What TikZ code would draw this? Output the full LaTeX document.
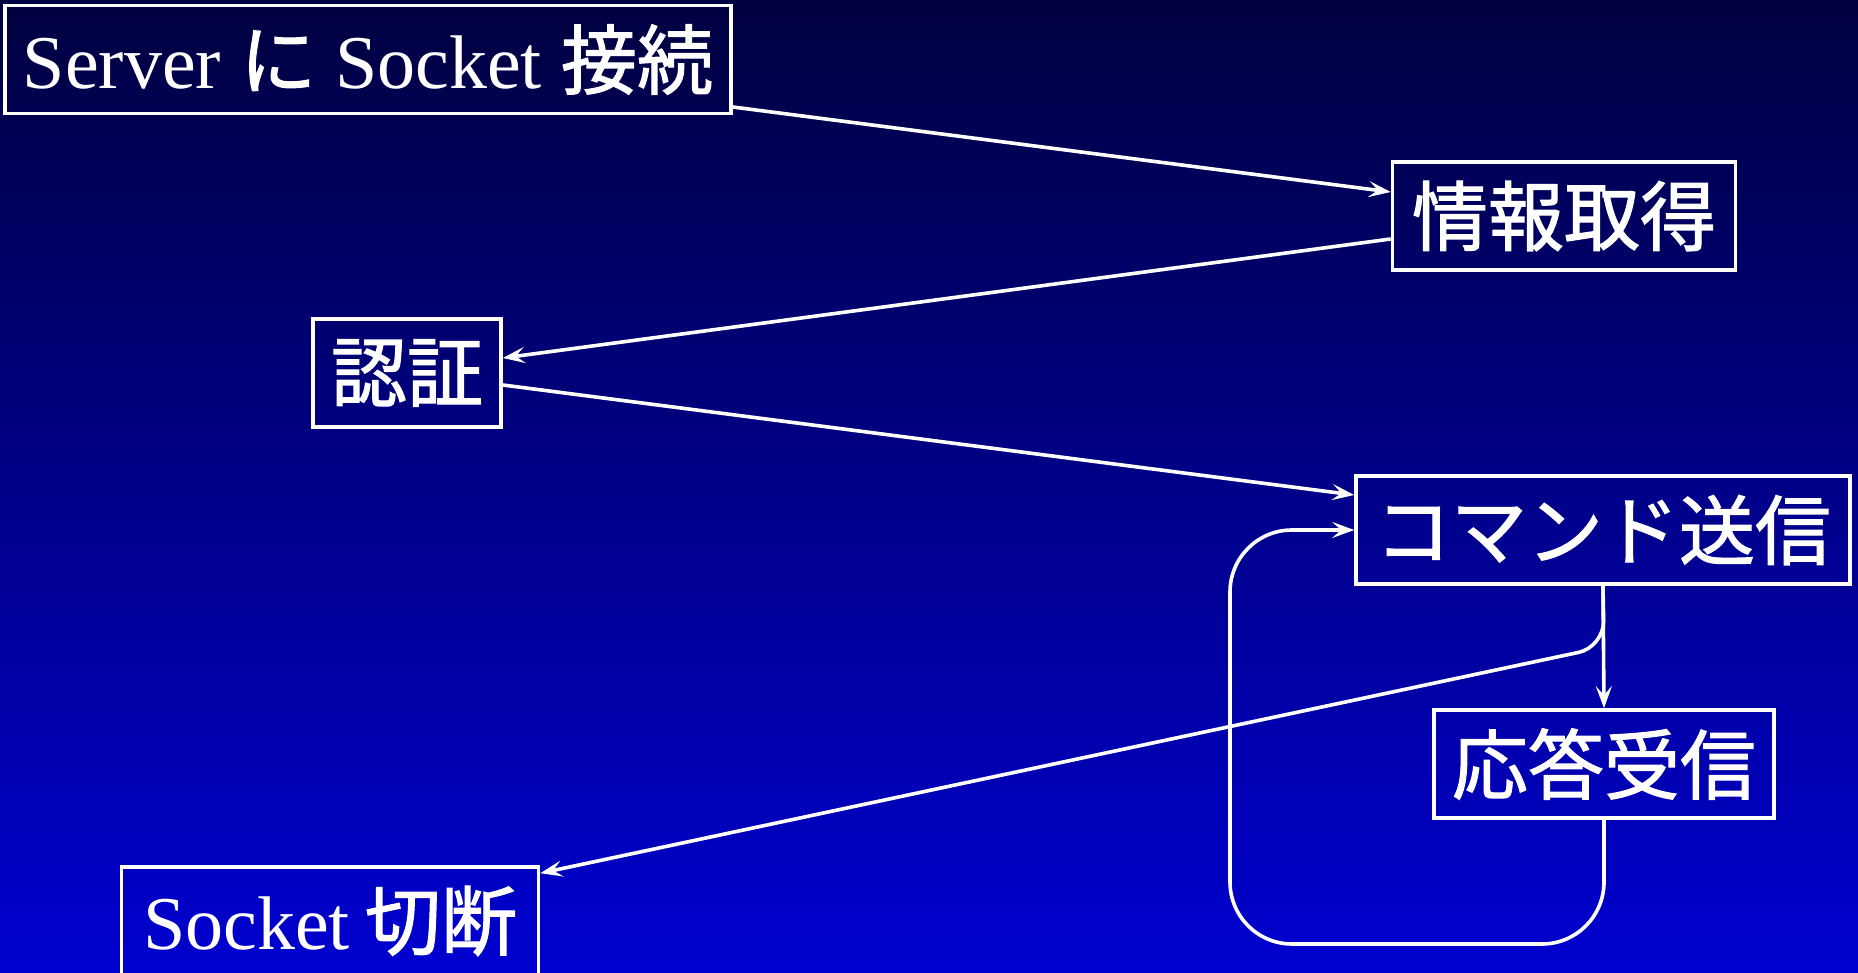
\documentclass[tikz,border=0pt]{standalone}
\usepackage{fontspec}
\setmainfont{Liberation Serif}
\newfontfamily\cjk[FakeBold=1.5]{Noto Sans CJK JP}
\usetikzlibrary{arrows.meta,calc}
\definecolor{topc}{RGB}{0,0,64}
\definecolor{botc}{RGB}{0,0,208}
\begin{document}
\begin{tikzpicture}[x=1pt,y=-1pt,
  box/.style={draw=white, line width=3.6pt, text=white, inner xsep=8pt, inner ysep=0pt,
    minimum height=108pt, font=\fontsize{76}{80}\selectfont},
  conn/.style={draw=white, line width=3.6pt, -{Stealth[length=22pt,width=16pt,inset=9pt]}}]
\useasboundingbox (0,0) rectangle (1858,973);
\shade[top color=topc, bottom color=botc] (0,0) rectangle (1858,973);
\node[box, minimum width=726pt] (n1) at (368,59.5) {Server {\cjk に} Socket {\cjk 接続}};
\node[box, minimum width=343pt] (n2) at (1564,216) {\cjk 情報取得};
\node[box, minimum width=188pt] (n3) at (407,373) {\cjk 認証};
\node[box, minimum width=494pt] (n4) at (1603,530) {\cjk コマンド送信};
\node[box, minimum width=340pt] (n5) at (1604,764) {\cjk 応答受信};
\node[box, minimum width=417pt] (n6) at (330,921) {Socket\hspace{-4pt} {\cjk 切断}};
\draw[conn] ($(n1.east)+(0,47.5)$) -- ($(n2.west)+(0,-24)$);
\draw[conn] ($(n2.west)+(0,23)$) -- ($(n3.east)+(0,-15)$);
\draw[conn] ($(n3.east)+(0,12)$) -- ($(n4.west)+(0,-35)$);
\draw[conn] (n4.south) -- (n5.north);
\draw[conn, rounded corners=26pt] (n4.south) -- (1604,647) -- ($(n6.north east)+(0,8)$);
\draw[conn, rounded corners=62pt] (n5.south) -- (1604,944) -- (1230,944) -- (1230,530) -- (n4.west);
\end{tikzpicture}
\end{document}
